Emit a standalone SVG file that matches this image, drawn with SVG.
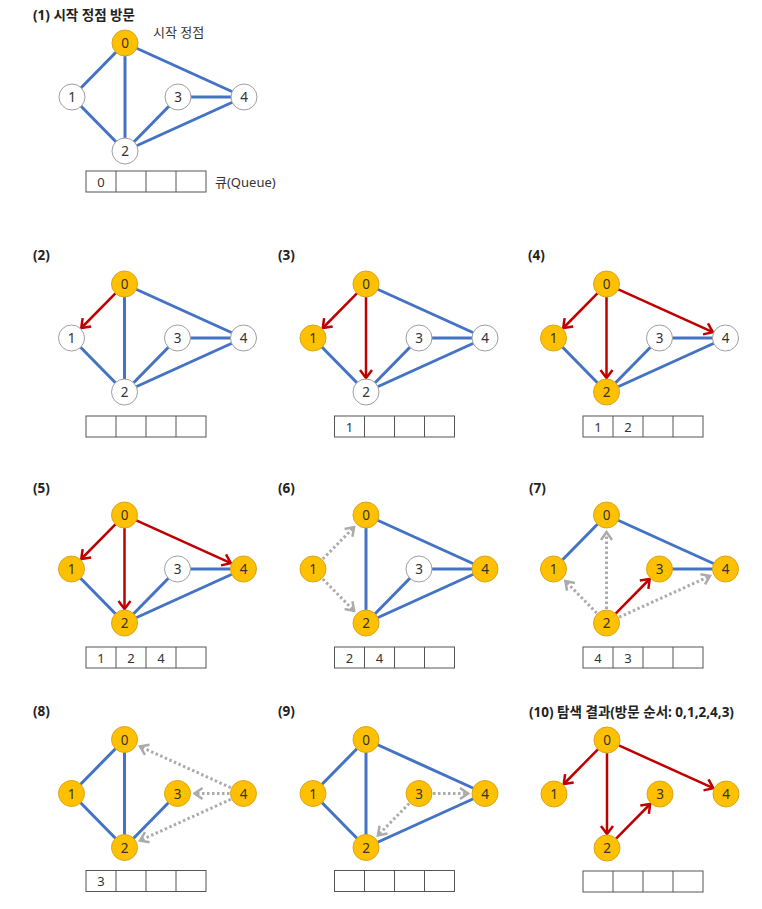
<svg xmlns="http://www.w3.org/2000/svg" width="762" height="909" viewBox="0 0 762 909">
<style>
.bg{fill:#fff}
.eb{stroke:#4472C4;stroke-width:3;fill:none}
.er{stroke:#C00000;stroke-width:2.5;fill:none;marker-end:url(#ar)}
.eg{stroke:#ABABAB;stroke-width:3;stroke-dasharray:2.5 2.5;fill:none;marker-end:url(#ag)}
.v circle{fill:#FFC000;stroke:#D9A520;stroke-width:1}
.u circle{fill:#fff;stroke:#A0A0A0;stroke-width:1}
.lbl{font-family:"Noto Sans","Open Sans",sans-serif;font-size:13.5px;fill:#333;text-anchor:middle;dominant-baseline:central}
.q rect{fill:#fff;stroke:#555;stroke-width:1}
.q line{stroke:#555;stroke-width:1}
.qt{font-family:"Noto Sans","Open Sans",sans-serif;font-size:13px;fill:#333;text-anchor:middle;dominant-baseline:central}
.ttl{font-family:"Noto Sans","Noto Sans CJK KR",sans-serif;font-size:13.5px;font-weight:bold;fill:#222}
.txt{font-family:"Noto Sans","Noto Sans CJK KR",sans-serif;font-size:13px;fill:#333}
</style>
<defs>
<marker id="ar" markerUnits="userSpaceOnUse" viewBox="-11 -8 13 16" refX="0" refY="0" markerWidth="13" markerHeight="16" orient="auto">
<path d="M-8,-6 L0,0 L-8,6" fill="none" stroke="#C00000" stroke-width="2.5"/>
</marker>
<marker id="ag" markerUnits="userSpaceOnUse" viewBox="-11 -8 13 16" refX="0" refY="0" markerWidth="13" markerHeight="16" orient="auto">
<path d="M-8,-5.5 L0,0 L-8,5.5" fill="none" stroke="#ABABAB" stroke-width="2.5"/>
</marker>
</defs>
<rect class="bg" x="0" y="0" width="762" height="909"/>

<!-- Panel 1 -->
<g id="panel1">
<text class="ttl" x="33" y="20">(1) 시작 정점 방문</text>
<text class="txt" x="153" y="37" font-size="14">시작 정점</text>
<text class="txt" x="215" y="187">큐(Queue)</text>
<g transform="translate(125,43)">
<g id="p1-edges">
<line class="eb" x1="0" y1="0" x2="-53" y2="54"/>
<line class="eb" x1="0" y1="0" x2="0" y2="108"/>
<line class="eb" x1="0" y1="0" x2="119" y2="54"/>
<line class="eb" x1="-53" y1="54" x2="0" y2="108"/>
<line class="eb" x1="0" y1="108" x2="53" y2="54"/>
<line class="eb" x1="53" y1="54" x2="119" y2="54"/>
<line class="eb" x1="0" y1="108" x2="119" y2="54"/>
</g>
<g id="p1-n0" class="v"><circle cx="0" cy="0" r="13"/><text class="lbl" x="0" y="0">0</text></g>
<g id="p1-n1" class="u"><circle cx="-53" cy="54" r="13"/><text class="lbl" x="-53" y="54">1</text></g>
<g id="p1-n2" class="u"><circle cx="0" cy="108" r="13"/><text class="lbl" x="0" y="108">2</text></g>
<g id="p1-n3" class="u"><circle cx="53" cy="54" r="13"/><text class="lbl" x="53" y="54">3</text></g>
<g id="p1-n4" class="u"><circle cx="119" cy="54" r="13"/><text class="lbl" x="119" y="54">4</text></g>
<g id="p1-queue" class="q"><rect x="-39" y="128" width="120" height="21"/><line x1="-9" y1="128" x2="-9" y2="149"/><line x1="21" y1="128" x2="21" y2="149"/><line x1="51" y1="128" x2="51" y2="149"/>
<text class="qt" x="-24" y="138.5">0</text></g>
</g>
</g>

<!-- Panel 2 -->
<g id="panel2">
<text class="ttl" x="33" y="260">(2)</text>
<g transform="translate(124.5,284)">
<g id="p2-edges">
<line class="eb" x1="0" y1="0" x2="0" y2="108"/>
<line class="eb" x1="0" y1="0" x2="119" y2="54"/>
<line class="eb" x1="-53" y1="54" x2="0" y2="108"/>
<line class="eb" x1="0" y1="108" x2="53" y2="54"/>
<line class="eb" x1="53" y1="54" x2="119" y2="54"/>
<line class="eb" x1="0" y1="108" x2="119" y2="54"/>
<line class="er" x1="-9.1" y1="9.3" x2="-43.2" y2="44"/>
</g>
<g id="p2-n0" class="v"><circle cx="0" cy="0" r="13"/><text class="lbl" x="0" y="0">0</text></g>
<g id="p2-n1" class="u"><circle cx="-53" cy="54" r="13"/><text class="lbl" x="-53" y="54">1</text></g>
<g id="p2-n2" class="u"><circle cx="0" cy="108" r="13"/><text class="lbl" x="0" y="108">2</text></g>
<g id="p2-n3" class="u"><circle cx="53" cy="54" r="13"/><text class="lbl" x="53" y="54">3</text></g>
<g id="p2-n4" class="u"><circle cx="119" cy="54" r="13"/><text class="lbl" x="119" y="54">4</text></g>
<g id="p2-queue" class="q"><rect x="-38.5" y="132" width="120" height="21"/><line x1="-8.5" y1="132" x2="-8.5" y2="153"/><line x1="21.5" y1="132" x2="21.5" y2="153"/><line x1="51.5" y1="132" x2="51.5" y2="153"/></g>
</g>
</g>

<!-- Panel 3 -->
<g id="panel3">
<text class="ttl" x="278" y="260">(3)</text>
<g transform="translate(366,284)">
<g id="p3-edges">
<line class="eb" x1="0" y1="0" x2="119" y2="54"/>
<line class="eb" x1="-53" y1="54" x2="0" y2="108"/>
<line class="eb" x1="0" y1="108" x2="53" y2="54"/>
<line class="eb" x1="53" y1="54" x2="119" y2="54"/>
<line class="eb" x1="0" y1="108" x2="119" y2="54"/>
<line class="er" x1="-9.1" y1="9.3" x2="-43.2" y2="44"/>
<line class="er" x1="0" y1="13" x2="0" y2="94"/>
</g>
<g id="p3-n0" class="v"><circle cx="0" cy="0" r="13"/><text class="lbl" x="0" y="0">0</text></g>
<g id="p3-n1" class="v"><circle cx="-53" cy="54" r="13"/><text class="lbl" x="-53" y="54">1</text></g>
<g id="p3-n2" class="u"><circle cx="0" cy="108" r="13"/><text class="lbl" x="0" y="108">2</text></g>
<g id="p3-n3" class="u"><circle cx="53" cy="54" r="13"/><text class="lbl" x="53" y="54">3</text></g>
<g id="p3-n4" class="u"><circle cx="119" cy="54" r="13"/><text class="lbl" x="119" y="54">4</text></g>
<g id="p3-queue" class="q"><rect x="-31.5" y="132" width="120" height="21"/><line x1="-1.5" y1="132" x2="-1.5" y2="153"/><line x1="28.5" y1="132" x2="28.5" y2="153"/><line x1="58.5" y1="132" x2="58.5" y2="153"/>
<text class="qt" x="-16.5" y="142.5">1</text></g>
</g>
</g>

<!-- Panel 4 -->
<g id="panel4">
<text class="ttl" x="528" y="260">(4)</text>
<g transform="translate(606.5,284)">
<g id="p4-edges">
<line class="eb" x1="-53" y1="54" x2="0" y2="108"/>
<line class="eb" x1="0" y1="108" x2="53" y2="54"/>
<line class="eb" x1="53" y1="54" x2="119" y2="54"/>
<line class="eb" x1="0" y1="108" x2="119" y2="54"/>
<line class="er" x1="-9.1" y1="9.3" x2="-43.2" y2="44"/>
<line class="er" x1="0" y1="13" x2="0" y2="94"/>
<line class="er" x1="11.8" y1="5.4" x2="106.3" y2="48.2"/>
</g>
<g id="p4-n0" class="v"><circle cx="0" cy="0" r="13"/><text class="lbl" x="0" y="0">0</text></g>
<g id="p4-n1" class="v"><circle cx="-53" cy="54" r="13"/><text class="lbl" x="-53" y="54">1</text></g>
<g id="p4-n2" class="v"><circle cx="0" cy="108" r="13"/><text class="lbl" x="0" y="108">2</text></g>
<g id="p4-n3" class="u"><circle cx="53" cy="54" r="13"/><text class="lbl" x="53" y="54">3</text></g>
<g id="p4-n4" class="u"><circle cx="119" cy="54" r="13"/><text class="lbl" x="119" y="54">4</text></g>
<g id="p4-queue" class="q"><rect x="-23.5" y="132" width="120" height="21"/><line x1="6.5" y1="132" x2="6.5" y2="153"/><line x1="36.5" y1="132" x2="36.5" y2="153"/><line x1="66.5" y1="132" x2="66.5" y2="153"/>
<text class="qt" x="-8.5" y="142.5">1</text><text class="qt" x="21.5" y="142.5">2</text></g>
</g>
</g>

<!-- Panel 5 -->
<g id="panel5">
<text class="ttl" x="33" y="493">(5)</text>
<g transform="translate(124.5,515)">
<g id="p5-edges">
<line class="eb" x1="-53" y1="54" x2="0" y2="108"/>
<line class="eb" x1="0" y1="108" x2="53" y2="54"/>
<line class="eb" x1="53" y1="54" x2="119" y2="54"/>
<line class="eb" x1="0" y1="108" x2="119" y2="54"/>
<line class="er" x1="-9.1" y1="9.3" x2="-43.2" y2="44"/>
<line class="er" x1="0" y1="13" x2="0" y2="94"/>
<line class="er" x1="11.8" y1="5.4" x2="106.3" y2="48.2"/>
</g>
<g id="p5-n0" class="v"><circle cx="0" cy="0" r="13"/><text class="lbl" x="0" y="0">0</text></g>
<g id="p5-n1" class="v"><circle cx="-53" cy="54" r="13"/><text class="lbl" x="-53" y="54">1</text></g>
<g id="p5-n2" class="v"><circle cx="0" cy="108" r="13"/><text class="lbl" x="0" y="108">2</text></g>
<g id="p5-n3" class="u"><circle cx="53" cy="54" r="13"/><text class="lbl" x="53" y="54">3</text></g>
<g id="p5-n4" class="v"><circle cx="119" cy="54" r="13"/><text class="lbl" x="119" y="54">4</text></g>
<g id="p5-queue" class="q"><rect x="-38.5" y="132" width="120" height="21"/><line x1="-8.5" y1="132" x2="-8.5" y2="153"/><line x1="21.5" y1="132" x2="21.5" y2="153"/><line x1="51.5" y1="132" x2="51.5" y2="153"/>
<text class="qt" x="-23.5" y="142.5">1</text><text class="qt" x="6.5" y="142.5">2</text><text class="qt" x="36.5" y="142.5">4</text></g>
</g>
</g>

<!-- Panel 6 -->
<g id="panel6">
<text class="ttl" x="278" y="493">(6)</text>
<g transform="translate(366,515)">
<g id="p6-edges">
<line class="eb" x1="0" y1="0" x2="0" y2="108"/>
<line class="eb" x1="0" y1="0" x2="119" y2="54"/>
<line class="eb" x1="0" y1="108" x2="53" y2="54"/>
<line class="eb" x1="53" y1="54" x2="119" y2="54"/>
<line class="eb" x1="0" y1="108" x2="119" y2="54"/>
<line class="eg" x1="-43.2" y1="44" x2="-11.9" y2="12.1"/>
<line class="eg" x1="-43.2" y1="64" x2="-11.9" y2="95.9"/>
</g>
<g id="p6-n0" class="v"><circle cx="0" cy="0" r="13"/><text class="lbl" x="0" y="0">0</text></g>
<g id="p6-n1" class="v"><circle cx="-53" cy="54" r="13"/><text class="lbl" x="-53" y="54">1</text></g>
<g id="p6-n2" class="v"><circle cx="0" cy="108" r="13"/><text class="lbl" x="0" y="108">2</text></g>
<g id="p6-n3" class="u"><circle cx="53" cy="54" r="13"/><text class="lbl" x="53" y="54">3</text></g>
<g id="p6-n4" class="v"><circle cx="119" cy="54" r="13"/><text class="lbl" x="119" y="54">4</text></g>
<g id="p6-queue" class="q"><rect x="-31.5" y="132" width="120" height="21"/><line x1="-1.5" y1="132" x2="-1.5" y2="153"/><line x1="28.5" y1="132" x2="28.5" y2="153"/><line x1="58.5" y1="132" x2="58.5" y2="153"/>
<text class="qt" x="-16.5" y="142.5">2</text><text class="qt" x="13.5" y="142.5">4</text></g>
</g>
</g>

<!-- Panel 7 -->
<g id="panel7">
<text class="ttl" x="529" y="493">(7)</text>
<g transform="translate(606.5,515)">
<g id="p7-edges">
<line class="eb" x1="0" y1="0" x2="-53" y2="54"/>
<line class="eb" x1="0" y1="0" x2="119" y2="54"/>
<line class="eb" x1="53" y1="54" x2="119" y2="54"/>
<line class="eg" x1="0" y1="94" x2="0" y2="17"/>
<line class="eg" x1="-9.8" y1="98" x2="-41.1" y2="66.1"/>
<line class="eg" x1="12.7" y1="102.2" x2="103.5" y2="61"/>
<line class="er" x1="9.1" y1="98.7" x2="43.2" y2="64"/>
</g>
<g id="p7-n0" class="v"><circle cx="0" cy="0" r="13"/><text class="lbl" x="0" y="0">0</text></g>
<g id="p7-n1" class="v"><circle cx="-53" cy="54" r="13"/><text class="lbl" x="-53" y="54">1</text></g>
<g id="p7-n2" class="v"><circle cx="0" cy="108" r="13"/><text class="lbl" x="0" y="108">2</text></g>
<g id="p7-n3" class="v"><circle cx="53" cy="54" r="13"/><text class="lbl" x="53" y="54">3</text></g>
<g id="p7-n4" class="v"><circle cx="119" cy="54" r="13"/><text class="lbl" x="119" y="54">4</text></g>
<g id="p7-queue" class="q"><rect x="-23.5" y="132" width="120" height="21"/><line x1="6.5" y1="132" x2="6.5" y2="153"/><line x1="36.5" y1="132" x2="36.5" y2="153"/><line x1="66.5" y1="132" x2="66.5" y2="153"/>
<text class="qt" x="-8.5" y="142.5">4</text><text class="qt" x="21.5" y="142.5">3</text></g>
</g>
</g>

<!-- Panel 8 -->
<g id="panel8">
<text class="ttl" x="33" y="716">(8)</text>
<g transform="translate(124.5,739.5)">
<g id="p8-edges">
<line class="eb" x1="0" y1="0" x2="-53" y2="54"/>
<line class="eb" x1="0" y1="0" x2="0" y2="108"/>
<line class="eb" x1="-53" y1="54" x2="0" y2="108"/>
<line class="eb" x1="0" y1="108" x2="53" y2="54"/>
<line class="eg" x1="106.3" y1="48.2" x2="15.5" y2="7"/>
<line class="eg" x1="105" y1="54" x2="70" y2="54"/>
<line class="eg" x1="106.3" y1="59.8" x2="15.5" y2="101"/>
</g>
<g id="p8-n0" class="v"><circle cx="0" cy="0" r="13"/><text class="lbl" x="0" y="0">0</text></g>
<g id="p8-n1" class="v"><circle cx="-53" cy="54" r="13"/><text class="lbl" x="-53" y="54">1</text></g>
<g id="p8-n2" class="v"><circle cx="0" cy="108" r="13"/><text class="lbl" x="0" y="108">2</text></g>
<g id="p8-n3" class="v"><circle cx="53" cy="54" r="13"/><text class="lbl" x="53" y="54">3</text></g>
<g id="p8-n4" class="v"><circle cx="119" cy="54" r="13"/><text class="lbl" x="119" y="54">4</text></g>
<g id="p8-queue" class="q"><rect x="-38.5" y="131" width="120" height="21"/><line x1="-8.5" y1="131" x2="-8.5" y2="152"/><line x1="21.5" y1="131" x2="21.5" y2="152"/><line x1="51.5" y1="131" x2="51.5" y2="152"/>
<text class="qt" x="-23.5" y="141.5">3</text></g>
</g>
</g>

<!-- Panel 9 -->
<g id="panel9">
<text class="ttl" x="278" y="716">(9)</text>
<g transform="translate(366,739.5)">
<g id="p9-edges">
<line class="eb" x1="0" y1="0" x2="-53" y2="54"/>
<line class="eb" x1="0" y1="0" x2="0" y2="108"/>
<line class="eb" x1="0" y1="0" x2="119" y2="54"/>
<line class="eb" x1="-53" y1="54" x2="0" y2="108"/>
<line class="eb" x1="0" y1="108" x2="119" y2="54"/>
<line class="eg" x1="67" y1="54" x2="102" y2="54"/>
<line class="eg" x1="43.2" y1="64" x2="11.9" y2="95.9"/>
</g>
<g id="p9-n0" class="v"><circle cx="0" cy="0" r="13"/><text class="lbl" x="0" y="0">0</text></g>
<g id="p9-n1" class="v"><circle cx="-53" cy="54" r="13"/><text class="lbl" x="-53" y="54">1</text></g>
<g id="p9-n2" class="v"><circle cx="0" cy="108" r="13"/><text class="lbl" x="0" y="108">2</text></g>
<g id="p9-n3" class="v"><circle cx="53" cy="54" r="13"/><text class="lbl" x="53" y="54">3</text></g>
<g id="p9-n4" class="v"><circle cx="119" cy="54" r="13"/><text class="lbl" x="119" y="54">4</text></g>
<g id="p9-queue" class="q"><rect x="-31.5" y="131" width="120" height="21"/><line x1="-1.5" y1="131" x2="-1.5" y2="152"/><line x1="28.5" y1="131" x2="28.5" y2="152"/><line x1="58.5" y1="131" x2="58.5" y2="152"/></g>
</g>
</g>

<!-- Panel 10 -->
<g id="panel10">
<text class="ttl" x="529" y="717">(10) 탐색 결과(방문 순서: 0,1,2,4,3)</text>
<g transform="translate(607,740)">
<g id="p10-edges">
<line class="er" x1="-9.1" y1="9.3" x2="-43.2" y2="44"/>
<line class="er" x1="0" y1="13" x2="0" y2="94"/>
<line class="er" x1="11.8" y1="5.4" x2="106.3" y2="48.2"/>
<line class="er" x1="9.1" y1="98.7" x2="43.2" y2="64"/>
</g>
<g id="p10-n0" class="v"><circle cx="0" cy="0" r="13"/><text class="lbl" x="0" y="0">0</text></g>
<g id="p10-n1" class="v"><circle cx="-53" cy="54" r="13"/><text class="lbl" x="-53" y="54">1</text></g>
<g id="p10-n2" class="v"><circle cx="0" cy="108" r="13"/><text class="lbl" x="0" y="108">2</text></g>
<g id="p10-n3" class="v"><circle cx="53" cy="54" r="13"/><text class="lbl" x="53" y="54">3</text></g>
<g id="p10-n4" class="v"><circle cx="119" cy="54" r="13"/><text class="lbl" x="119" y="54">4</text></g>
<g id="p10-queue" class="q"><rect x="-24" y="131" width="120" height="21"/><line x1="6" y1="131" x2="6" y2="152"/><line x1="36" y1="131" x2="36" y2="152"/><line x1="66" y1="131" x2="66" y2="152"/></g>
</g>
</g>
</svg>
